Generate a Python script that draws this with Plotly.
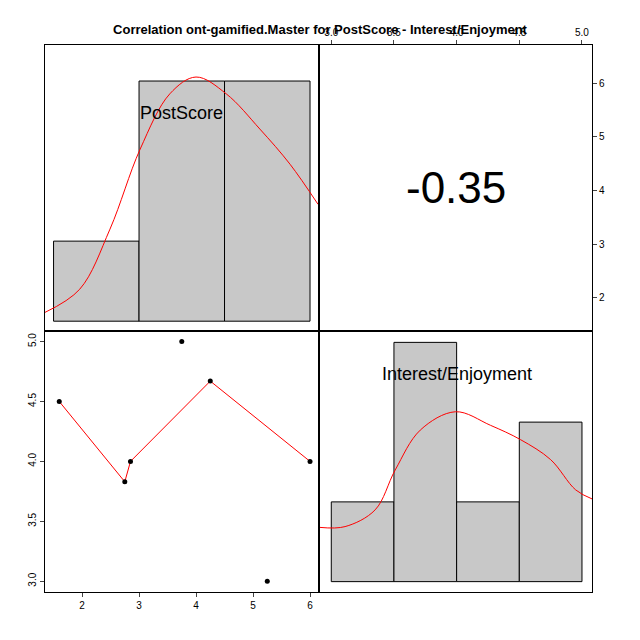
import plotly.graph_objects as go

# PostScore histogram (bin edges, counts) and density curve
ps_edges = [1.5, 3.0, 4.5, 6.0]
ps_counts = [1, 3, 3]
ps_dens_x = [1.35, 1.96, 2.49, 3.02, 3.54, 4.0, 4.53, 5.12, 5.65, 6.14]
ps_dens_y = [0.11, 0.40, 1.15, 2.15, 2.84, 3.05, 2.84, 2.4, 1.96, 1.46]

# Interest/Enjoyment histogram and density
ie_edges = [3.0, 3.5, 4.0, 4.5, 5.0]
ie_counts = [1, 3, 1, 2]
ie_dens_x = [2.91, 3.11, 3.35, 3.51, 3.71, 3.99, 4.27, 4.51, 4.75, 4.95, 5.09]
ie_dens_y = [0.68, 0.69, 0.9, 1.4, 1.9, 2.13, 1.96, 1.78, 1.53, 1.15, 1.03]

# scatter points
post = [1.6, 2.75, 2.85, 3.75, 4.25, 5.25, 6.0]
interest = [4.5, 3.83, 4.0, 5.0, 4.67, 3.0, 4.0]
# smoother line
fit_x = [1.6, 2.75, 2.85, 4.25, 6.0]
fit_y = [4.5, 3.83, 4.0, 4.67, 4.0]

corr = -0.35

fig = go.Figure()

def hist(edges, counts, xa, ya):
    mids = [(a + b) / 2 for a, b in zip(edges[:-1], edges[1:])]
    widths = [b - a for a, b in zip(edges[:-1], edges[1:])]
    fig.add_trace(go.Bar(x=mids, y=counts, width=widths, xaxis=xa, yaxis=ya,
                         marker=dict(color="#c8c8c8", line=dict(color="black", width=1)),
                         showlegend=False, hoverinfo="skip"))

hist(ps_edges, ps_counts, "x", "y")
fig.add_trace(go.Scatter(x=ps_dens_x, y=ps_dens_y, mode="lines", line=dict(color="red", width=1, shape="spline"),
                         xaxis="x", yaxis="y", showlegend=False))
hist(ie_edges, ie_counts, "x4", "y4")
fig.add_trace(go.Scatter(x=ie_dens_x, y=ie_dens_y, mode="lines", line=dict(color="red", width=1, shape="spline"),
                         xaxis="x4", yaxis="y4", showlegend=False))
fig.add_trace(go.Scatter(x=fit_x, y=fit_y, mode="lines", line=dict(color="red", width=1),
                         xaxis="x3", yaxis="y3", showlegend=False))
fig.add_trace(go.Scatter(x=post, y=interest, mode="markers", marker=dict(color="black", size=5),
                         xaxis="x3", yaxis="y3", showlegend=False))
# empty trace so the correlation panel is drawn
fig.add_trace(go.Scatter(x=[None], y=[None], mode="markers", xaxis="x2", yaxis="y2",
                         showlegend=False, hoverinfo="skip"))

OFF = 8  # page offset of the plot in the browser

def px(a, b):
    return ((a - OFF) / 640, (b - OFF) / 640)

def py(top, bottom):
    return (1 - (bottom - OFF) / 640, 1 - (top - OFF) / 640)

L = px(45, 318)
R = px(320, 592)
T = py(45, 330)
B = py(332, 592)
box = dict(showline=True, mirror=True, linecolor="black", linewidth=1, zeroline=False, showgrid=False,
           tickfont=dict(size=10, color="black"), ticks="outside", ticklen=4)
none = dict(box, showticklabels=False, ticks="")

fig.update_layout(
    width=640, height=640, margin=dict(l=0, r=0, t=0, b=0),
    plot_bgcolor="white", paper_bgcolor="white", barmode="overlay",
    font=dict(family="Liberation Sans, Arial", color="black"),
    xaxis=dict(none, domain=L, range=[1.35, 6.14], anchor="y"),
    yaxis=dict(none, domain=T, range=[-0.11, 3.45], anchor="x"),
    xaxis2=dict(box, domain=R, range=[2.91, 5.08], anchor="y2", side="top",
                tickvals=[3.0, 3.5, 4.0, 4.5, 5.0], ticktext=["3.0", "3.5", "4.0", "4.5", "5.0"]),
    yaxis2=dict(box, domain=T, range=[1.40, 6.71], anchor="x2", side="right", tickvals=[2, 3, 4, 5, 6]),
    xaxis3=dict(box, domain=L, range=[1.35, 6.14], anchor="y3", tickvals=[2, 3, 4, 5, 6]),
    yaxis3=dict(box, domain=B, range=[2.91, 5.08], anchor="x3",
                tickvals=[3.0, 3.5, 4.0, 4.5, 5.0], ticktext=["3.0", "3.5", "4.0", "4.5", "5.0"], tickangle=-90),
    xaxis4=dict(none, domain=R, range=[2.91, 5.08], anchor="y4"),
    yaxis4=dict(none, domain=B, range=[-0.13, 3.13], anchor="x4"),
    title=dict(text="<b>Correlation ont-gamified.Master for PostScore - Interest/Enjoyment</b>",
               x=(320 - OFF) / 640, y=1 - (29 - OFF) / 640, xanchor="center", yanchor="middle",
               font=dict(size=13)),
)
fig.add_annotation(text="PostScore", x=3.75, y=2.6, xref="x", yref="y", showarrow=False, font=dict(size=18))
fig.add_annotation(text="Interest/Enjoyment", x=4.0, y=2.6, xref="x4", yref="y4", showarrow=False, font=dict(size=18))
fig.add_annotation(text=f"{corr:.2f}", x=0.5, y=0.5, xref="x2 domain", yref="y2 domain", showarrow=False,
                   font=dict(size=44))

fig.write_html("out.html")
